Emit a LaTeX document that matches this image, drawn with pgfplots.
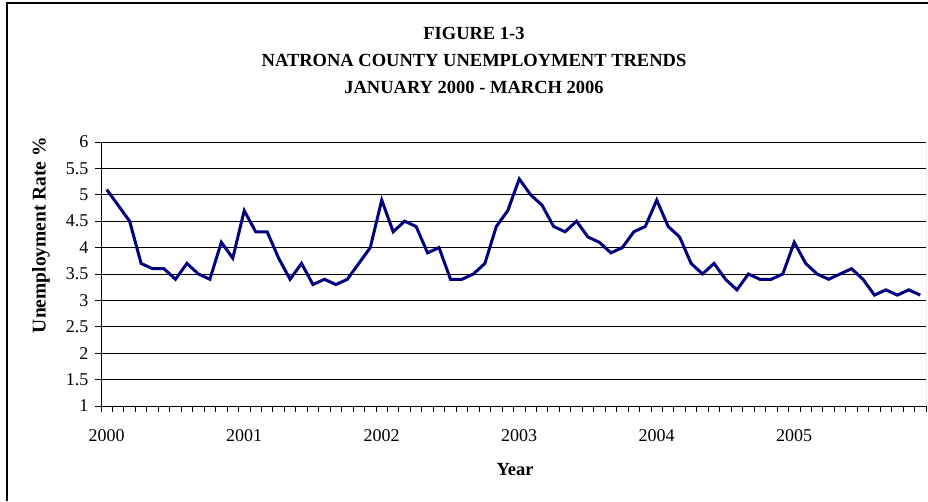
\documentclass[border=0pt]{standalone}
\usepackage{fontspec}
\setmainfont{Liberation Serif}
\usepackage{pgfplots}
\pgfplotsset{compat=1.18}
\definecolor{linenavy}{RGB}{0,0,128}
\begin{document}
\begin{tikzpicture}[x=1pt,y=1pt]
\path[use as bounding box] (0,0) rectangle (928,501);
\draw[line width=1.3pt] (7,0) -- (7,498) -- (928,498);
\begin{scope}[every node/.style={font=\bfseries\fontsize{18.5}{20}\selectfont}]
\node at (474,468) {FIGURE 1-3};
\node at (474,441) {NATRONA COUNTY UNEMPLOYMENT TRENDS};
\node at (474,414) {JANUARY 2000 - MARCH 2006};
\node at (515,31) {Year};
\node[rotate=90, font=\bfseries\fontsize{19.5}{20}\selectfont] at (41,266) {Unemployment Rate \%};
\end{scope}
\begin{axis}[
    at={(101pt,95pt)}, anchor=south west,
    scale only axis, width=825pt, height=264pt,
    xmin=-0.5, xmax=71.5, ymin=1, ymax=6,
    ytick={1,1.5,2,2.5,3,3.5,4,4.5,5,5.5,6},
    xtick={-0.5,0.5,...,71.5},
    xticklabels={},
    extra x ticks={0,12,24,36,48,60},
    extra x tick labels={2000,2001,2002,2003,2004,2005},
    extra x tick style={major tick length=0pt, grid=none,
        tick label style={yshift=-20pt}},
    xtick pos=bottom, ytick pos=left,
    tick align=outside, major tick length=6pt,
    tick style={black, line width=0.9pt},
    ymajorgrids, grid style={black, line width=0.9pt},
    axis line style={draw=none},
    tick label style={font=\fontsize{18}{20}\selectfont},
    /pgf/number format/assume math mode=true,
    yticklabel style={xshift=-3pt},
  ]
  \draw[gray, line width=1pt] (rel axis cs:1,0) -- (rel axis cs:1,1);
  \draw[black, line width=1pt] (rel axis cs:0,1) -- (rel axis cs:0,0) -- (rel axis cs:1,0);
  \addplot[linenavy, line width=3pt, no marks] table {
    x y
    0 5.1
    1 4.8
    2 4.5
    3 3.7
    4 3.6
    5 3.6
    6 3.4
    7 3.7
    8 3.5
    9 3.4
    10 4.1
    11 3.8
    12 4.7
    13 4.3
    14 4.3
    15 3.8
    16 3.4
    17 3.7
    18 3.3
    19 3.4
    20 3.3
    21 3.4
    22 3.7
    23 4.0
    24 4.9
    25 4.3
    26 4.5
    27 4.4
    28 3.9
    29 4.0
    30 3.4
    31 3.4
    32 3.5
    33 3.7
    34 4.4
    35 4.7
    36 5.3
    37 5.0
    38 4.8
    39 4.4
    40 4.3
    41 4.5
    42 4.2
    43 4.1
    44 3.9
    45 4.0
    46 4.3
    47 4.4
    48 4.9
    49 4.4
    50 4.2
    51 3.7
    52 3.5
    53 3.7
    54 3.4
    55 3.2
    56 3.5
    57 3.4
    58 3.4
    59 3.5
    60 4.1
    61 3.7
    62 3.5
    63 3.4
    64 3.5
    65 3.6
    66 3.4
    67 3.1
    68 3.2
    69 3.1
    70 3.2
    71 3.1
  };
\end{axis}
\end{tikzpicture}
\end{document}
